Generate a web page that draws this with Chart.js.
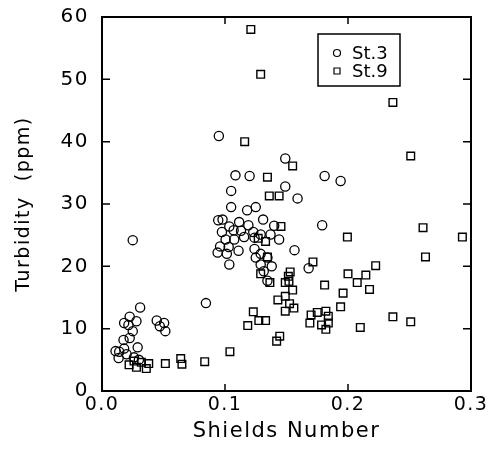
<!DOCTYPE html>
<html>
<head>
<meta charset="utf-8">
<script src="https://cdn.jsdelivr.net/npm/chart.js@4"></script>
<style>
  body { margin: 0; background: #fff; }
  #wrap { width: 493px; height: 455px; }
</style>
</head>
<body>
<div id="wrap"><canvas id="turbidityChart" width="493" height="455"></canvas></div>
<script>
// St.3 (circles)
const st3X = [0.011, 0.014, 0.0135, 0.020, 0.026, 0.018, 0.029, 0.0175, 0.0225, 0.025, 0.0215, 0.018, 0.028, 0.0225, 0.031, 0.025, 0.030,
  0.0445, 0.0505, 0.047, 0.0515, 0.0845,
  0.095, 0.1085, 0.120, 0.149, 0.181, 0.194, 0.105, 0.149, 0.159, 0.105, 0.118, 0.125, 0.0945, 0.098, 0.1035, 0.1115, 0.119, 0.131, 0.140,
  0.107, 0.0975, 0.113, 0.123, 0.129, 0.137, 0.144, 0.1005, 0.1075, 0.1155, 0.124, 0.096, 0.103, 0.094, 0.1015, 0.111, 0.124, 0.125,
  0.129, 0.1035, 0.129, 0.138, 0.1315, 0.1345, 0.1565, 0.179, 0.168, 0.1345];
const st3Y = [6.4, 6.3, 5.3, 5.9, 5.4, 6.8, 7.0, 8.2, 8.5, 9.6, 10.6, 10.9, 11.2, 11.9, 13.4, 24.2, 5.0,
  11.3, 10.9, 10.4, 9.6, 14.1,
  40.9, 34.6, 34.5, 37.3, 34.5, 33.7, 32.1, 32.8, 30.9, 29.5, 29.0, 29.5, 27.4, 27.5, 26.4, 27.1, 26.6, 27.5, 26.5,
  25.8, 25.5, 25.7, 25.5, 25.1, 25.1, 24.3, 24.3, 24.3, 24.7, 24.6, 23.2, 23.1, 22.2, 22.0, 22.5, 22.8, 21.4,
  22.0, 20.3, 20.3, 20.0, 19.2, 17.7, 22.6, 26.6, 19.7, 21.4];

// St.9 (squares)
const st9X = [0.121, 0.129, 0.116, 0.155, 0.1345, 0.136, 0.144, 0.2365, 0.251, 0.261, 0.293, 0.1995, 0.263, 0.1715, 0.2225, 0.200,
  0.2145, 0.2075, 0.181, 0.2175, 0.196, 0.194, 0.2365, 0.251, 0.210, 0.170, 0.169, 0.175, 0.182, 0.184, 0.184, 0.1785, 0.182,
  0.153, 0.1515, 0.152, 0.149, 0.155, 0.149, 0.143, 0.1525, 0.156, 0.149, 0.1445, 0.142, 0.1455, 0.133, 0.127, 0.1345, 0.129,
  0.1365, 0.133, 0.1275, 0.123, 0.1185, 0.104,
  0.022, 0.026, 0.028, 0.032, 0.036, 0.038, 0.0515, 0.064, 0.065, 0.0835];
const st9Y = [58.0, 50.8, 40.0, 36.1, 34.3, 31.3, 31.3, 46.3, 37.7, 26.2, 24.7, 24.7, 21.5, 20.7, 20.1, 18.8,
  18.6, 17.4, 17.0, 16.3, 15.7, 13.5, 11.9, 11.1, 10.2, 12.2, 10.9, 12.6, 12.8, 12.0, 10.9, 10.6, 9.9,
  19.1, 18.4, 17.6, 17.4, 16.2, 15.2, 14.6, 14.0, 13.3, 12.8, 8.8, 8.0, 26.4, 24.0, 24.5, 21.5, 18.8,
  17.4, 11.3, 11.3, 12.7, 10.5, 6.3,
  4.2, 4.8, 3.8, 4.6, 3.6, 4.4, 4.4, 5.2, 4.3, 4.7];

const xTicks = [0.0, 0.1, 0.2, 0.3];
const yTicks = [0, 10, 20, 30, 40, 50, 60];

const toPoints = (xs, ys) => xs.map((x, i) => ({ x: x, y: ys[i] }));

// frame, inward ticks and boxed legend
const framePlugin = {
  id: "frameAndLegend",
  beforeDraw: (chart) => {
    chart.ctx.letterSpacing = "1.5px";
  },
  afterDatasetsDraw: (chart) => {
    const { ctx, chartArea } = chart;
    const { left, right, top, bottom } = chartArea;
    const xs = chart.scales.x;
    const ys = chart.scales.y;
    ctx.save();
    ctx.strokeStyle = "#000";
    ctx.lineWidth = 2;
    ctx.strokeRect(left, top, right - left, bottom - top);

    ctx.lineWidth = 1.5;
    ctx.beginPath();
    xTicks.slice(1, -1).forEach((v) => {
      const px = xs.getPixelForValue(v);
      ctx.moveTo(px, bottom);
      ctx.lineTo(px, bottom - 7);
      ctx.moveTo(px, top);
      ctx.lineTo(px, top + 7);
    });
    yTicks.slice(1, -1).forEach((v) => {
      const py = ys.getPixelForValue(v);
      ctx.moveTo(left, py);
      ctx.lineTo(left + 8, py);
      ctx.moveTo(right, py);
      ctx.lineTo(right - 8, py);
    });
    ctx.stroke();

    // legend box
    const bx = left + 216, by = top + 17, bw = 82, bh = 52;
    ctx.lineWidth = 1.5;
    ctx.strokeRect(bx, by, bw, bh);
    ctx.letterSpacing = "0px";
    ctx.font = "18px 'DejaVu Sans'";
    ctx.fillStyle = "#000";
    ctx.textBaseline = "middle";
    chart.data.datasets.forEach((ds, i) => {
      const cy = by + 19 + i * 18;
      const cx = bx + 19;
      ctx.lineWidth = 1.2;
      ctx.beginPath();
      if (ds.pointStyle === "circle") {
        ctx.arc(cx, cy, 3.5, 0, Math.PI * 2);
      } else {
        ctx.rect(cx - 3, cy - 3, 6, 6);
      }
      ctx.stroke();
      ctx.fillText(ds.label, bx + 34, cy + 1);
    });
    ctx.restore();
  },
};

function createTurbidityChart() {
  const ctx = document.getElementById("turbidityChart").getContext("2d");
  Chart.defaults.font.family = "'DejaVu Sans'";
  Chart.defaults.color = "#000";

  return new Chart(ctx, {
    type: "scatter",
    data: {
      datasets: [
        {
          label: "St.3",
          data: toPoints(st3X, st3Y),
          pointStyle: "circle",
          pointRadius: 4.6,
          borderWidth: 1.3,
          borderColor: "#000",
          backgroundColor: "rgba(0,0,0,0)",
        },
        {
          label: "St.9",
          data: toPoints(st9X, st9Y),
          pointStyle: "rect",
          pointRadius: 5.4,
          borderWidth: 1.4,
          borderColor: "#000",
          backgroundColor: "rgba(0,0,0,0)",
        },
      ],
    },
    options: {
      responsive: false,
      animation: false,
      layout: { padding: { top: 7, right: 22, bottom: 0, left: 0 } },
      scales: {
        x: {
          type: "linear",
          min: 0,
          max: 0.3,
          afterBuildTicks: (scale) => {
            scale.ticks = xTicks.map((v) => ({ value: v }));
          },
          afterFit: (scale) => {
            scale.height = 64;
          },
          ticks: {
            padding: -5,
            font: { size: 19 },
            callback: (v) => v.toFixed(1),
          },
          grid: { display: false },
          border: { display: false },
          title: {
            display: true,
            text: "Shields Number",
            font: { size: 21 },
            padding: { top: 0, bottom: 11 },
          },
        },
        y: {
          type: "linear",
          min: 0,
          max: 60,
          afterBuildTicks: (scale) => {
            scale.ticks = yTicks.map((v) => ({ value: v }));
          },
          afterFit: (scale) => {
            scale.width = 102;
          },
          ticks: {
            padding: 5,
            font: { size: 20 },
          },
          grid: { display: false },
          border: { display: false },
          title: {
            display: true,
            text: "Turbidity  (ppm)",
            font: { size: 19 },
            padding: { top: 13, bottom: 0 },
          },
        },
      },
      plugins: {
        legend: { display: false },
        tooltip: { enabled: false },
      },
    },
    plugins: [framePlugin],
  });
}

document.addEventListener("DOMContentLoaded", () => {
  createTurbidityChart();
});
</script>
</body>
</html>
